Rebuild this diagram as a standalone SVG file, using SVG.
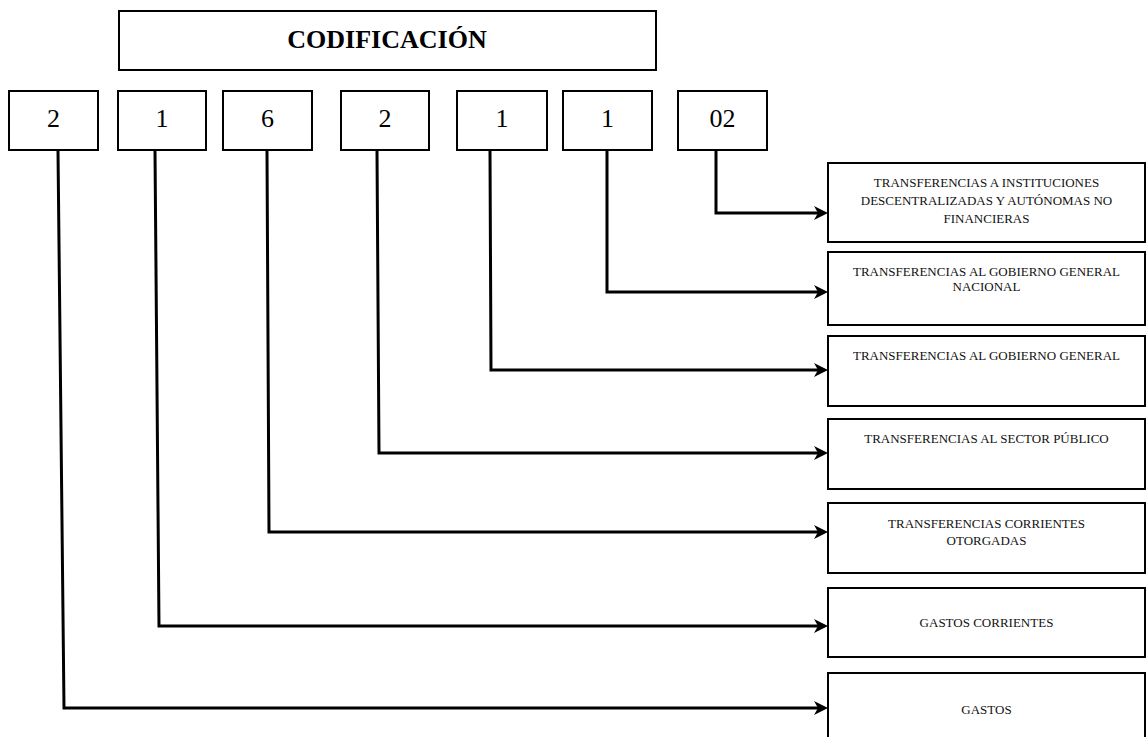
<svg xmlns="http://www.w3.org/2000/svg" width="1147" height="737" viewBox="0 0 1147 737">
<style>
.box{fill:#fff;stroke:#000;stroke-width:2}
.dig{font-family:"Liberation Serif","Times New Roman",serif;font-size:26px;text-anchor:middle;fill:#000}
.lbl{font-family:"Liberation Serif","Times New Roman",serif;font-size:13px;text-anchor:middle;fill:#111}
.title{font-family:"Liberation Serif","Times New Roman",serif;font-size:26px;font-weight:bold;text-anchor:middle;fill:#000}
.con{fill:none;stroke:#000;stroke-width:3;marker-end:url(#arr)}
</style>
<defs>
<marker id="arr" markerUnits="userSpaceOnUse" markerWidth="16" markerHeight="16" viewBox="0 0 16 16" refX="4" refY="8" orient="auto">
<path d="M0,1 L14,8 L0,15 L4,8 z" fill="#000"/>
</marker>
</defs>
<rect width="1147" height="737" fill="#fff"/>
<g id="title">
<rect class="box" x="119" y="11" width="537" height="59"/>
<text class="title" x="387" y="48">CODIFICACIÓN</text>
</g>
<g id="d1"><rect class="box" x="9" y="91" width="89" height="59"/><text class="dig" x="53.5" y="127">2</text></g>
<g id="d2"><rect class="box" x="118" y="91" width="88" height="59"/><text class="dig" x="162" y="127">1</text></g>
<g id="d3"><rect class="box" x="223" y="91" width="89" height="59"/><text class="dig" x="267.5" y="127">6</text></g>
<g id="d4"><rect class="box" x="341" y="91" width="88" height="59"/><text class="dig" x="385" y="127">2</text></g>
<g id="d5"><rect class="box" x="457" y="91" width="90" height="59"/><text class="dig" x="502" y="127">1</text></g>
<g id="d6"><rect class="box" x="563" y="91" width="89" height="59"/><text class="dig" x="607.5" y="127">1</text></g>
<g id="d7"><rect class="box" x="678" y="91" width="89" height="59"/><text class="dig" x="722.5" y="127">02</text></g>

<g id="r1"><rect class="box" x="828" y="163" width="317" height="79"/>
<text class="lbl" x="986.5" y="187">TRANSFERENCIAS A INSTITUCIONES</text>
<text class="lbl" x="986.5" y="205">DESCENTRALIZADAS Y AUTÓNOMAS NO</text>
<text class="lbl" x="986.5" y="223">FINANCIERAS</text></g>
<g id="r2"><rect class="box" x="828" y="252" width="317" height="73"/>
<text class="lbl" x="986.5" y="275.5">TRANSFERENCIAS AL GOBIERNO GENERAL</text>
<text class="lbl" x="986.5" y="290.5">NACIONAL</text></g>
<g id="r3"><rect class="box" x="828" y="336" width="317" height="70"/>
<text class="lbl" x="986.5" y="359.5">TRANSFERENCIAS AL GOBIERNO GENERAL</text></g>
<g id="r4"><rect class="box" x="828" y="419" width="317" height="70"/>
<text class="lbl" x="986.5" y="442.5">TRANSFERENCIAS AL SECTOR PÚBLICO</text></g>
<g id="r5"><rect class="box" x="828" y="503" width="317" height="70"/>
<text class="lbl" x="986.5" y="527.5">TRANSFERENCIAS CORRIENTES</text>
<text class="lbl" x="986.5" y="544.5">OTORGADAS</text></g>
<g id="r6"><rect class="box" x="828" y="588" width="317" height="69"/>
<text class="lbl" x="986.5" y="626.5">GASTOS CORRIENTES</text></g>
<g id="r7"><rect class="box" x="828" y="673" width="317" height="72"/>
<text class="lbl" x="986.5" y="713.5">GASTOS</text></g>

<g id="connectors">
<path class="con" d="M716,151 L716,213 L818,213"/>
<path class="con" d="M607,151 L607,292 L818,292"/>
<path class="con" d="M490,151 L491,370 L818,370"/>
<path class="con" d="M377,151 L379,453 L818,453"/>
<path class="con" d="M267,151 L269,532 L818,532"/>
<path class="con" d="M155,151 L159,626 L818,626"/>
<path class="con" d="M58,151 L64,708 L818,708"/>
</g>
</svg>
